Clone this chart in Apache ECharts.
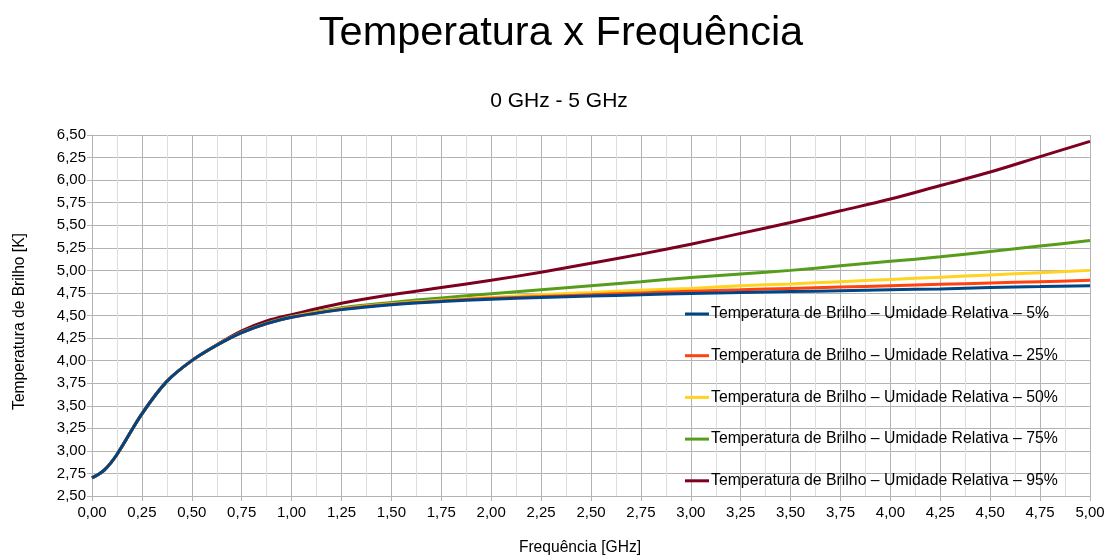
<!DOCTYPE html>
<html>
<head>
<meta charset="utf-8">
<script src="https://cdn.jsdelivr.net/npm/echarts@6/dist/echarts.min.js"></script>
<style>html,body{margin:0;padding:0;background:#fff}#c{width:1107px;height:555px}</style>
</head>
<body>
<div id="c"></div>
<script>
const freq = [0, 0.0625, 0.125, 0.25, 0.375, 0.5, 0.625, 0.75, 0.875, 1.0, 1.25, 1.5, 1.75, 2.0, 2.25, 2.5, 2.75, 3.0, 3.25, 3.5, 3.75, 4.0, 4.25, 4.5, 4.75, 5.0];
const seriesNames = [
  'Temperatura de Brilho – Umidade Relativa – 5%',
  'Temperatura de Brilho – Umidade Relativa – 25%',
  'Temperatura de Brilho – Umidade Relativa – 50%',
  'Temperatura de Brilho – Umidade Relativa – 75%',
  'Temperatura de Brilho – Umidade Relativa – 95%'
];
const rh5  = [2.70, 2.79, 2.96, 3.41, 3.77, 4.00, 4.17, 4.31, 4.41, 4.48, 4.565, 4.62, 4.655, 4.68, 4.70, 4.715, 4.73, 4.745, 4.755, 4.765, 4.775, 4.785, 4.795, 4.81, 4.82, 4.83];
const rh25 = [2.70, 2.79, 2.96, 3.41, 3.77, 4.00, 4.17, 4.31, 4.41, 4.48, 4.57, 4.625, 4.66, 4.69, 4.71, 4.73, 4.75, 4.77, 4.785, 4.80, 4.815, 4.83, 4.845, 4.86, 4.875, 4.89];
const rh50 = [2.70, 2.79, 2.96, 3.41, 3.77, 4.00, 4.17, 4.31, 4.41, 4.485, 4.575, 4.63, 4.67, 4.70, 4.73, 4.755, 4.78, 4.80, 4.83, 4.85, 4.875, 4.90, 4.925, 4.95, 4.975, 5.00];
const rh75 = [2.70, 2.79, 2.96, 3.41, 3.77, 4.00, 4.17, 4.315, 4.415, 4.49, 4.585, 4.645, 4.695, 4.74, 4.785, 4.83, 4.875, 4.92, 4.96, 5.00, 5.05, 5.10, 5.15, 5.21, 5.27, 5.33];
const rh95 = [2.70, 2.79, 2.96, 3.41, 3.77, 4.00, 4.175, 4.33, 4.44, 4.51, 4.635, 4.73, 4.81, 4.89, 4.98, 5.08, 5.18, 5.29, 5.41, 5.53, 5.66, 5.79, 5.94, 6.09, 6.26, 6.43];
const colors = ['#004586', '#ff420e', '#ffd320', '#579d1c', '#7e0021'];
const yTicks = { min: 2.5, max: 6.5, step: 0.25 };
const xTicks = { min: 0, max: 5, step: 0.25 };

const allVals = [rh5, rh25, rh50, rh75, rh95];
const fmt = v => v.toFixed(2).replace('.', ',');
const FONT = '"Liberation Sans", Arial, sans-serif';

const series = [];
for (let i = allVals.length - 1; i >= 0; i--) {
  series.push({
    name: seriesNames[i],
    type: 'line',
    smooth: 0.35,
    showSymbol: false,
    lineStyle: { width: 3, color: colors[i] },
    itemStyle: { color: colors[i] },
    data: freq.map((f, k) => [f, allVals[i][k]])
  });
}

const chart = echarts.init(document.getElementById('c'), null, { renderer: 'canvas' });
chart.setOption({
  animation: false,
  backgroundColor: '#fff',
  textStyle: { fontFamily: FONT },
  title: [
    { text: 'Temperatura x Frequência', left: 556, top: 8, textAlign: 'center',
      textStyle: { fontFamily: FONT, fontSize: 41.5, fontWeight: 'normal', color: '#000' } },
    { text: '0 GHz - 5 GHz', left: 554, top: 86, textAlign: 'center',
      textStyle: { fontFamily: FONT, fontSize: 21, fontWeight: 'normal', color: '#000' } }
  ],
  legend: {
    orient: 'vertical',
    left: 685,
    top: 306,
    padding: 0,
    itemGap: 25.7,
    itemWidth: 24,
    itemHeight: 3,
    icon: 'rect',
    data: seriesNames,
    textStyle: { fontFamily: FONT, fontSize: 15.8, color: '#000', lineHeight: 16, padding: [0, 0, 0, -3] }
  },
  grid: { left: 92, right: 17, top: 135, bottom: 59, containLabel: false, outerBoundsMode: 'none' },
  xAxis: {
    type: 'value',
    min: xTicks.min, max: xTicks.max, interval: xTicks.step,
    name: 'Frequência [GHz]',
    nameLocation: 'middle',
    nameGap: 44,
    nameTextStyle: { fontFamily: FONT, fontSize: 15.6, color: '#000', padding: [0, 22, 0, 0] },
    axisLine: { show: true, lineStyle: { color: '#b3b3b3' } },
    axisTick: { show: true, length: 5, lineStyle: { color: '#b3b3b3' } },
    axisLabel: { formatter: fmt, fontFamily: FONT, fontSize: 15, color: '#000', margin: 9 },
    splitLine: { show: true, lineStyle: { color: '#b3b3b3', width: 1 } },
    minorTick: { show: true, splitNumber: 2, length: 0, lineStyle: { color: 'rgba(0,0,0,0)' } },
    minorSplitLine: { show: true, lineStyle: { color: '#dddddd', width: 1 } }
  },
  yAxis: {
    type: 'value',
    min: yTicks.min, max: yTicks.max, interval: yTicks.step,
    name: 'Temperatura de Brilho [K]',
    nameLocation: 'middle',
    nameGap: 64,
    nameRotate: 90,
    nameTextStyle: { fontFamily: FONT, fontSize: 15.6, color: '#000', padding: [0, 12, 0, 0] },
    axisLine: { show: true, lineStyle: { color: '#b3b3b3' } },
    axisTick: { show: true, length: 5, lineStyle: { color: '#b3b3b3' } },
    axisLabel: { formatter: fmt, fontFamily: FONT, fontSize: 15, color: '#000', margin: 6 },
    splitLine: { show: true, lineStyle: { color: '#b3b3b3', width: 1 } }
  },
  series: series
});
</script>
</body>
</html>
